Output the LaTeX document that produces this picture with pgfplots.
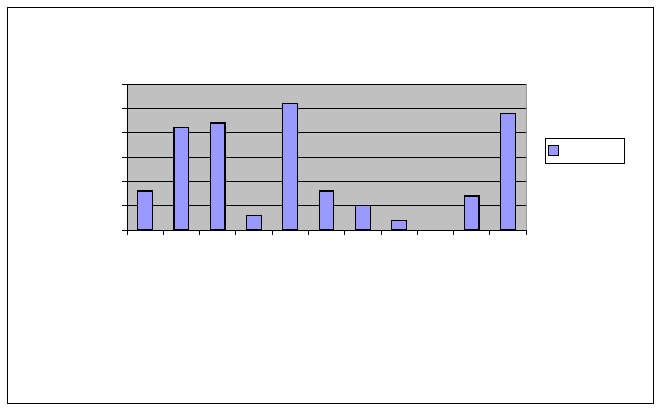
\documentclass[border=0pt]{standalone}
\usepackage{pgfplots}
\pgfplotsset{compat=1.18}
\definecolor{plotgray}{RGB}{192,192,192}
\definecolor{barblue}{RGB}{153,153,255}
\begin{document}
\begin{tikzpicture}[x=1pt,y=1pt]
\fill[white] (0,0) rectangle (661,410);
\draw[black, line width=0.8pt] (7,7) rectangle (653,403);
\begin{axis}[
  at={(127pt,180pt)}, anchor=south west,
  scale only axis, width=399pt, height=146pt,
  xmin=0.5, xmax=11.5, ymin=0, ymax=6,
  xtick={0.5,1.5,...,11.5}, ytick={0,1,...,6},
  xticklabels={}, yticklabels={},
  axis lines*=left,
  axis line style={-, black, line width=0.9pt},
  tick align=outside,
  major tick length=5pt,
  tick style={black, line width=0.8pt},
  ymajorgrids, major grid style={black, line width=0.9pt},
  axis background/.style={fill=plotgray, draw=gray!80},
  legend style={at={(axis description cs:1.0476,0.630)}, anchor=north west,
    draw=black, line width=0.8pt, fill=white, inner xsep=3pt, inner ysep=7pt, font=\small},
  legend image code/.code={\draw[fill=barblue, draw=black, line width=1pt] (0pt,-5pt) rectangle (10pt,5pt);},
]
\addplot[ybar, bar width=14.7pt, fill=barblue, draw=black, line width=1.2pt]
  coordinates {(1,1.6)(2,4.2)(3,4.4)(4,0.6)(5,5.2)(6,1.6)(7,1.0)(8,0.4)(10,1.4)(11,4.8)};
\addlegendentry{\hspace*{58pt}}
\end{axis}
\end{tikzpicture}
\end{document}
